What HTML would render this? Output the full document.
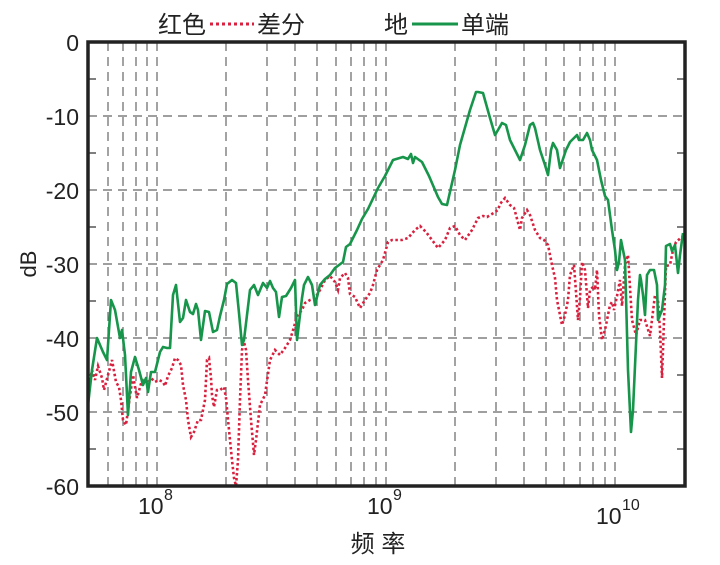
<!DOCTYPE html>
<html><head><meta charset="utf-8"><style>
body{margin:0;background:#fff;}
svg text{font-family:"Liberation Sans","Noto Sans CJK SC",sans-serif;fill:#222;}
</style></head><body>
<svg width="720" height="560" viewBox="0 0 720 560" xmlns="http://www.w3.org/2000/svg">
<rect width="720" height="560" fill="#fff"/>
<g stroke="#666" stroke-width="1.2" stroke-dasharray="9,6" fill="none">
<path d="M88 116H685M88 190H685M88 264H685M88 338H685M88 412H685"/>
<path d="M108 42V486M123 42V486M136 42V486M147 42V486M157 42V486M226 42V486M267 42V486M295 42V486M317 42V486M336 42V486M351 42V486M364 42V486M376 42V486M386 42V486M455 42V486M496 42V486M524 42V486M546 42V486M564 42V486M580 42V486M593 42V486M605 42V486M615 42V486"/>
</g>
<g stroke="#555" stroke-width="1.5">
<path d="M88 79h8M88 153h8M88 227h8M88 301h8M88 375h8M88 449h8M685 79h-8M685 153h-8M685 227h-8M685 301h-8M685 375h-8M685 449h-8"/>
</g>
<polyline fill="none" stroke="#d9213f" stroke-width="2.6" stroke-dasharray="2.5,2.5" points="88,390 92,370 95,380 98,366 102,378 104,390 108,375 112,360 116,382 119,387 121,400 123,420 126,425 128,410 133,375 137,398 142,380 146,380 148,383 151,378 155,382 159,380 163,382 165,386 168,376 172,368 175,358 178,360 181,365 183,385 186,400 188,420 191,437 194,432 198,420 201,420 205,400 207,360 209,358 211,378 212,395 214,407 217,390 220,390 224,387 226,398 229,430 232,460 234,478 236,486 238,460 240,400 242,350 244,342 246,350 248,380 251,420 254,455 256,440 260,405 265,395 270,360 275,350 280,355 285,348 290,340 294,327 297,316 302,310 305,303 310,300 315,298 320,290 325,280 330,276 335,282 338,290 340,278 343,275 345,273 348,278 350,294 355,297 360,308 365,300 370,293 373,285 377,270 383,260 388,242 392,240 402,240 408,238 415,230 420,226 426,232 432,240 438,248 445,240 450,228 455,226 460,235 465,240 472,230 478,218 483,216 487,217 492,214 498,210 500,204 505,198 510,205 514,208 516,215 520,230 522,218 527,210 530,215 535,230 540,238 544,240 548,245 552,265 555,278 557,300 560,315 562,325 565,315 568,300 570,275 572,270 574,265 576,292 578,320 580,298 582,262 585,270 588,308 590,290 594,286 595,290 597,270 599,315 602,340 605,330 608,315 610,305 612,302 614,310 617,296 620,280 622,306 625,265 628,255 632,320 636,335 640,320 645,320 650,336 655,295 658,300 660,330 662,378 664,320 666,266 670,265 673,250 676,242 683,236"/>
<polyline fill="none" stroke="#17954a" stroke-width="2.6" stroke-linejoin="round" points="88,405 92,370 97,338 103,352 107,360 111,300 115,310 120,338 122,330 125,355 128,415 131,372 135,357 139,370 143,385 146,378 148,392 151,372 155,372 160,352 163,347 167,348 170,348 173,295 176,285 180,322 183,318 186,300 190,312 193,314 196,304 198,310 201,340 205,311 209,312 213,332 217,330 220,316 224,300 227,284 232,280 236,283 239,313 242,345 244,340 250,290 254,285 258,295 263,283 267,288 270,281 273,288 276,292 279,317 282,297 286,296 291,288 295,280 297,340 302,298 304,285 308,277 312,285 315,305 320,285 325,279 330,275 335,268 343,262 346,247 350,244 357,230 362,219 368,209 378,188 385,176 393,160 403,157 408,159 411,154 413,163 415,157 422,162 429,176 438,197 442,204 447,205 455,170 460,145 470,110 476,92 478,92 483,93 490,118 495,135 498,130 502,123 506,125 510,140 520,160 525,145 530,125 533,123 535,128 540,150 545,165 548,175 551,150 553,143 557,150 560,168 566,150 570,142 574,138 577,135 579,140 583,140 587,133 590,140 592,150 597,160 601,180 605,196 608,200 612,230 615,250 617,270 619,262 621,240 625,260 628,370 631,432 633,410 638,300 640,275 641,280 643,295 645,315 647,275 650,270 654,270 657,285 658,320 662,310 665,285 666,246 670,244 672,251 675,245 678,273 680,255 683,233"/>
<rect x="88" y="42" width="597" height="444" fill="none" stroke="#222" stroke-width="3.5"/>
<g font-size="23" text-anchor="end">
<text x="79" y="51">0</text><text x="79" y="125">-10</text><text x="79" y="199">-20</text>
<text x="79" y="273">-30</text><text x="79" y="347">-40</text><text x="79" y="421">-50</text><text x="79" y="495">-60</text>
</g>
<g font-size="23">
<text x="138" y="514">10</text><text x="164" y="500" font-size="16">8</text>
<text x="367" y="514">10</text><text x="393" y="500" font-size="16">9</text>
<text x="596" y="524">10</text><text x="622" y="510" font-size="16">10</text>
</g>
<text x="36" y="264" font-size="22" transform="rotate(-90 36 264)" text-anchor="middle">dB</text>
<text x="378" y="552" font-size="24" text-anchor="middle">频 率</text>
<text x="158" y="33" font-size="24">红色</text>
<line x1="210" y1="24" x2="254" y2="24" stroke="#d9213f" stroke-width="3" stroke-dasharray="3,3"/>
<text x="257" y="33" font-size="24">差分</text>
<text x="384" y="33" font-size="24">地</text>
<line x1="412" y1="24" x2="458" y2="24" stroke="#17954a" stroke-width="3"/>
<text x="461" y="33" font-size="24">单端</text>
</svg>
</body></html>
